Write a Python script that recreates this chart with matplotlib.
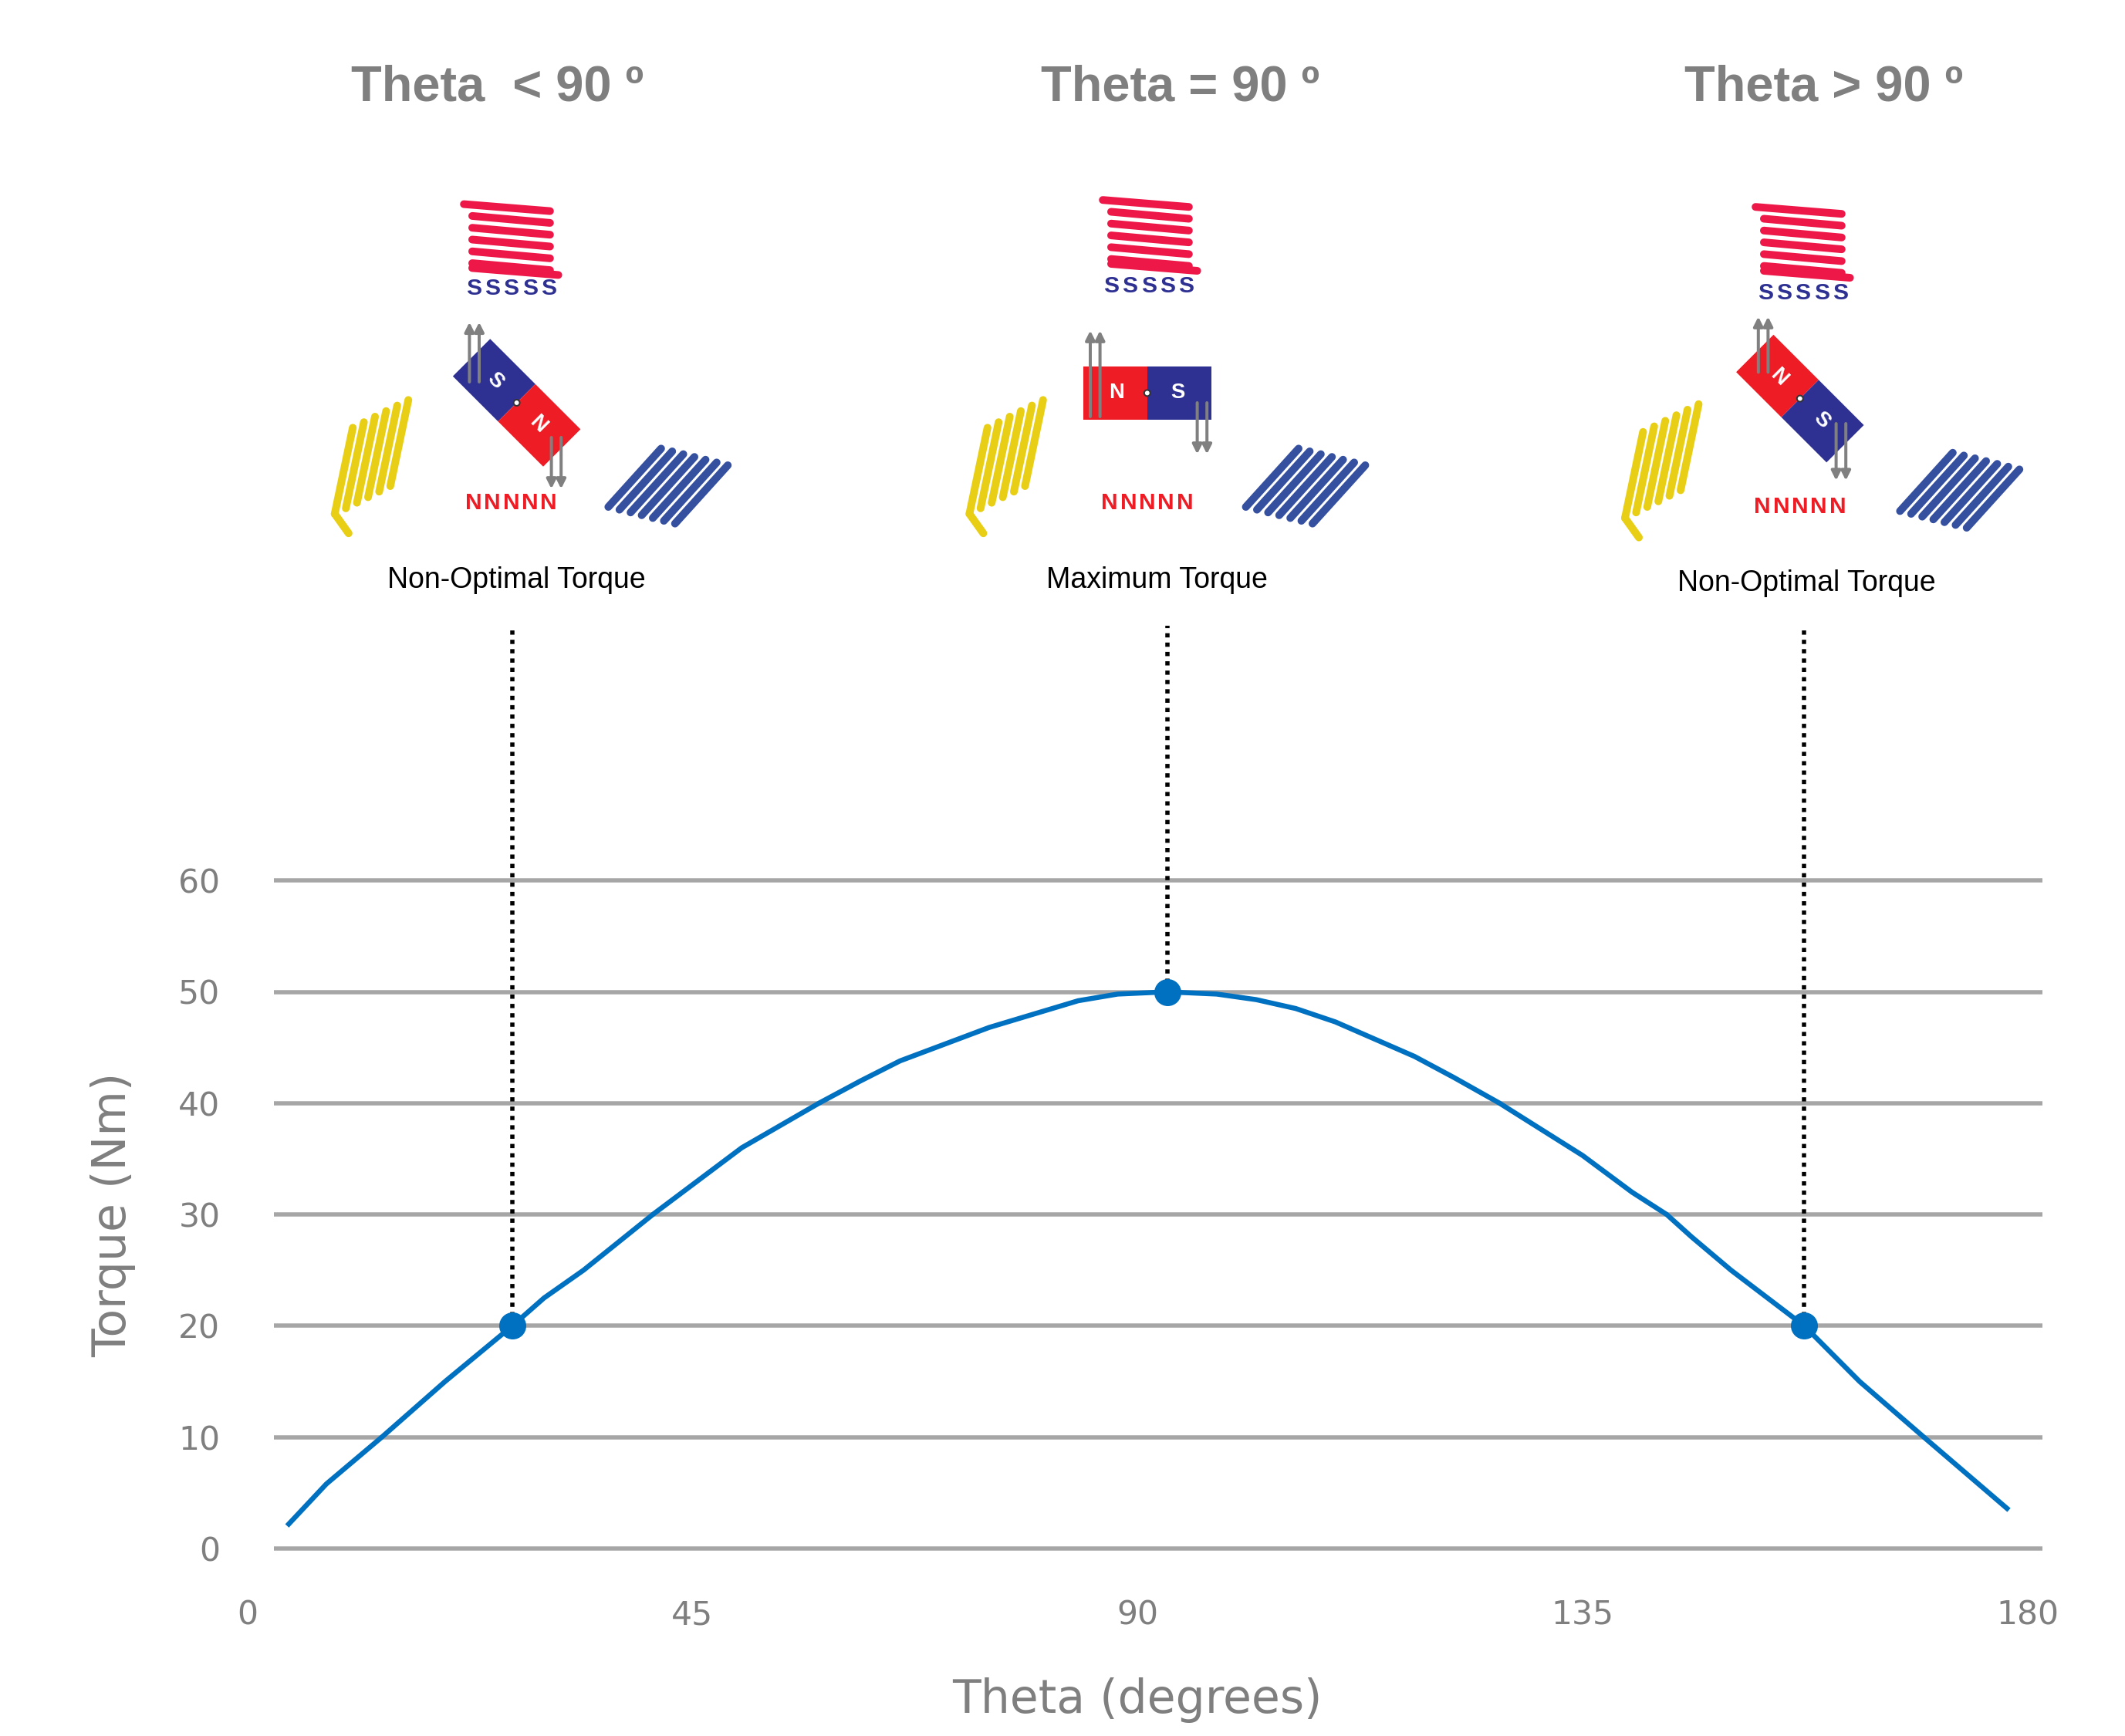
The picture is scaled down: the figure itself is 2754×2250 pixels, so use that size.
import numpy as np
import matplotlib.pyplot as plt
from matplotlib.patches import Polygon, Circle

# Data
theta = [4.2, 8, 13.6, 20, 26.8, 30, 34, 41, 50, 57.8, 62, 66, 75, 84, 88, 93,
         98, 102, 106, 110, 118, 122, 126.6, 135, 140, 143.5, 146, 150, 157.4,
         163, 169.5, 177.9]
torque = [2.2, 5.8, 10, 15, 20, 22.5, 25, 30, 36, 40, 42, 43.8, 46.8, 49.2, 49.8,
          50, 49.8, 49.3, 48.5, 47.3, 44.2, 42.3, 40, 35.3, 32, 30, 28, 25, 20,
          15, 10, 3.6]
marked_theta = [26.8, 93, 157.4]
marked_torque = [20, 50, 20]
x_ticks = [0, 45, 90, 135, 180]
y_ticks = [0, 10, 20, 30, 40, 50, 60]
titles = ['Theta  < 90 º', 'Theta = 90 º', 'Theta > 90 º']
captions = ['Non-Optimal Torque', 'Maximum Torque', 'Non-Optimal Torque']

W, H = 1530, 1250          # reference layout units
GRAY = '#7f7f7f'
BLUE = '#0070c0'
RED = '#ee1c25'
NAVY = '#2e3192'
COIL_RED = '#ed1848'
COIL_YEL = '#e8cf16'
COIL_BLU = '#3650a0'

fig = plt.figure(figsize=(15.3, 12.5), dpi=180)

# overlay for illustrations, in reference pixel units
ov = fig.add_axes([0, 0, 1, 1])
ov.set_xlim(0, W)
ov.set_ylim(H, 0)
ov.axis('off')


def top_coil(cx, cy):
    for i in range(6):
        y = cy - 21 + i * 8.5
        x0 = cx - 28 if i else cx - 34
        ov.plot([x0, cx + 28], [y, y + 5], color=COIL_RED, lw=4, solid_capstyle='round')
    ov.plot([cx - 28, cx + 34], [cy + 25, cy + 30], color=COIL_RED, lw=4,
            solid_capstyle='round')


def yellow_coil(cx, cy):
    for i in range(6):
        bx = cx - 24 + i * 8
        by = cy + 30 - i * 4
        ov.plot([bx, bx + 13], [by, by - 62], color=COIL_YEL, lw=4,
                solid_capstyle='round')
    ov.plot([cx - 24, cx - 14], [cy + 30, cy + 44], color=COIL_YEL, lw=4,
            solid_capstyle='round')


def blue_coil(cx, cy):
    for i in range(7):
        bx = cx - 34 + i * 8
        by = cy + 20 + i * 2
        ov.plot([bx, bx + 38], [by, by - 42], color=COIL_BLU, lw=4,
                solid_capstyle='round')


def spaced(x, y, txt, color, step=13.5):
    n = len(txt)
    for i, ch in enumerate(txt):
        ov.text(x + (i - (n - 1) / 2) * step, y, ch, color=color, fontsize=12,
                fontweight='bold', ha='center', va='center', family='Liberation Sans')


def magnet(cx, cy, angle, left_color, right_color, left_txt, right_txt):
    a = np.deg2rad(angle)
    u = np.array([np.cos(a), -np.sin(a)])
    v = np.array([np.sin(a), np.cos(a)])
    c = np.array([cx, cy])
    L, Wd = 46, 19
    left = [c + v * Wd, c - u * L + v * Wd, c - u * L - v * Wd, c - v * Wd]
    right = [c + v * Wd, c + u * L + v * Wd, c + u * L - v * Wd, c - v * Wd]
    ov.add_patch(Polygon(left, closed=True, color=left_color, lw=0))
    ov.add_patch(Polygon(right, closed=True, color=right_color, lw=0))
    ov.add_patch(Circle((cx, cy), 2.2, facecolor='white', edgecolor='#333333', lw=0.8))
    for sgn, t in ((-1, left_txt), (1, right_txt)):
        p = c + u * 22 * sgn
        ov.text(p[0], p[1], t, color='white', fontsize=11, fontweight='bold',
                rotation=angle, ha='center', va='center', rotation_mode='anchor',
                family='Liberation Sans')


def arrows(xs, y0, y1):
    for x in xs:
        ov.annotate('', xy=(x, y1), xytext=(x, y0),
                    arrowprops=dict(arrowstyle='-|>', color='#808080', lw=1.6,
                                    mutation_scale=10, shrinkA=0, shrinkB=0))


panels = [
    dict(tx=358, cap=(372, 418), coil=(368, 168), s=(368, 208), n=(368, 362),
         yel=(265, 340), blu=(472, 345), mag=(372, 290, -45, NAVY, RED, 'S', 'N'),
         up=([338, 345], 275, 232), down=([397, 404], 315, 352)),
    dict(tx=850, cap=(833, 418), coil=(828, 165), s=(827, 206), n=(826, 362),
         yel=(722, 340), blu=(931, 345), mag=(826, 283, 0, RED, NAVY, 'N', 'S'),
         up=([785, 792], 300, 238), down=([862, 869], 290, 327)),
    dict(tx=1313, cap=(1301, 420), coil=(1298, 170), s=(1298, 211), n=(1296, 365),
         yel=(1194, 343), blu=(1402, 348), mag=(1296, 287, -45, RED, NAVY, 'N', 'S'),
         up=([1266, 1273], 268, 228), down=([1322, 1329], 305, 346)),
]

for p, title, cap in zip(panels, titles, captions):
    ov.text(p['tx'], 63, title, color=GRAY, fontsize=26, fontweight='bold',
            ha='center', va='center', family='Liberation Sans')
    top_coil(*p['coil'])
    spaced(*p['s'], 'SSSSS', NAVY)
    spaced(*p['n'], 'NNNNN', RED)
    yellow_coil(*p['yel'])
    blue_coil(*p['blu'])
    magnet(*p['mag'])
    arrows(*p['up'])
    arrows(*p['down'])
    ov.text(*p['cap'], cap, color='black', fontsize=15, ha='center', va='center',
            family='Liberation Sans')

# data axes
ax = fig.add_axes([178 / W, 1 - 1115 / H, (1460 - 178) / W, (1115 - 634) / H])
ax.patch.set_alpha(0)
ax.set_xlim(0, 180)
ax.set_ylim(0, 60)
for s in ax.spines.values():
    s.set_visible(False)
ax.hlines(y_ticks, 2.7, 181.5, color='#a6a6a6', lw=2.2, clip_on=False, zorder=1)
ax.vlines(marked_theta, marked_torque, 82.9, color='black', lw=2.2,
          linestyles=(0, (1, 1.2)), clip_on=False, zorder=2)
ax.plot(theta, torque, color=BLUE, lw=2.6, zorder=3, clip_on=False)
ax.plot(marked_theta, marked_torque, 'o', color=BLUE, ms=13, zorder=4, clip_on=False)

ax.set_xticks(x_ticks)
ax.set_yticks(y_ticks)
ax.tick_params(length=0, labelsize=17, labelcolor=GRAY)
ax.tick_params(axis='x', pad=26)
ax.tick_params(axis='y', pad=14)
ax.set_xlabel('Theta (degrees)', fontsize=24, color=GRAY, labelpad=24)
ax.set_ylabel('Torque (Nm)', fontsize=24, color=GRAY, labelpad=22)

fig.savefig('out.png', dpi=180)
